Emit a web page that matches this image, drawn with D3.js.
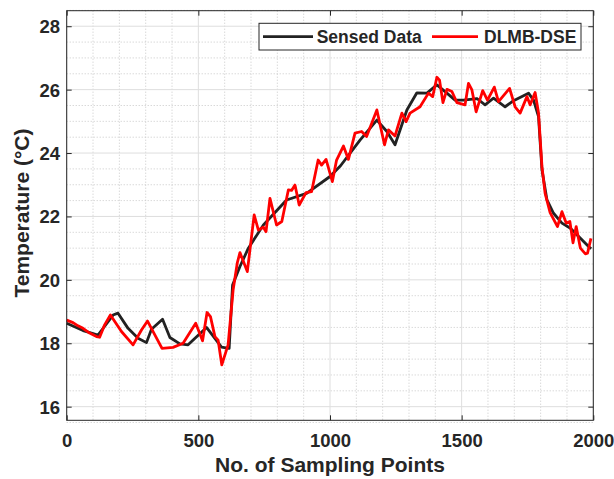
<!DOCTYPE html>
<html>
<head>
<meta charset="utf-8">
<script src="https://cdn.jsdelivr.net/npm/d3@7"></script>
<style>
  html, body { margin: 0; padding: 0; background: #fff; }
  svg { display: block; }
  text { font-family: "Liberation Sans", Arial, Helvetica, sans-serif; font-weight: bold; fill: #262626; }
</style>
</head>
<body>
<svg id="chart" width="614" height="479"></svg>
<script>
// Sensed temperature readings (sample index, °C)
const sensedX = [0, 62, 119, 176, 195, 233, 271, 303, 322, 364, 392, 430, 461, 531, 588, 617, 630, 658, 690, 747, 835, 911, 1000, 1040, 1114, 1178, 1216, 1247, 1292, 1330, 1368, 1406, 1444, 1475, 1507, 1558, 1589, 1621, 1665, 1697, 1754, 1773, 1792, 1805, 1824, 1849, 1881, 1913, 1951, 1982, 1992];
const sensedTemp = [18.63, 18.40, 18.26, 18.89, 18.95, 18.47, 18.16, 18.02, 18.44, 18.76, 18.18, 17.98, 17.95, 18.50, 17.88, 17.84, 19.84, 20.42, 21.00, 21.73, 22.52, 22.73, 23.26, 23.60, 24.41, 25.04, 24.68, 24.26, 25.36, 25.90, 25.89, 26.15, 25.89, 25.67, 25.67, 25.72, 25.52, 25.73, 25.46, 25.65, 25.89, 25.67, 25.15, 23.47, 22.52, 22.10, 21.79, 21.63, 21.31, 21.05, 20.98];

// DLMB-DSE estimates (sample index, °C)
const dseX = [0, 24, 43, 62, 87, 113, 125, 144, 166, 208, 252, 284, 307, 362, 404, 442, 490, 516, 533, 546, 563, 575, 589, 613, 632, 648, 658, 686, 712, 728, 747, 757, 772, 797, 817, 842, 854, 867, 883, 909, 930, 955, 968, 985, 1009, 1025, 1051, 1070, 1095, 1120, 1139, 1178, 1207, 1222, 1247, 1273, 1289, 1304, 1342, 1374, 1390, 1406, 1416, 1429, 1444, 1463, 1482, 1513, 1526, 1539, 1555, 1580, 1598, 1624, 1640, 1682, 1703, 1722, 1748, 1760, 1779, 1792, 1805, 1817, 1836, 1864, 1881, 1897, 1911, 1923, 1935, 1951, 1970, 1978, 1991];
const dseTemp = [18.73, 18.65, 18.55, 18.47, 18.32, 18.21, 18.19, 18.58, 18.89, 18.37, 17.95, 18.42, 18.70, 17.84, 17.87, 18.00, 18.63, 18.08, 18.97, 18.84, 18.21, 18.10, 17.32, 17.95, 19.68, 20.54, 20.86, 20.26, 22.05, 21.57, 21.66, 21.52, 22.57, 21.73, 21.84, 22.84, 22.82, 22.99, 22.36, 22.75, 22.78, 23.78, 23.62, 23.80, 23.10, 23.78, 24.22, 23.80, 24.63, 24.68, 24.52, 25.36, 24.26, 24.73, 24.54, 25.26, 24.99, 25.26, 25.46, 25.89, 25.78, 26.39, 26.30, 25.59, 26.01, 25.94, 25.59, 25.52, 26.20, 25.99, 25.30, 25.97, 25.67, 26.08, 25.62, 26.04, 25.46, 25.26, 25.78, 25.52, 25.91, 25.26, 23.57, 22.73, 22.12, 21.68, 22.15, 21.79, 21.84, 21.17, 21.68, 21.00, 20.82, 20.84, 21.31];

// Axis ticks and labels
const xTicks = [0, 500, 1000, 1500, 2000];
const yTicks = [16, 18, 20, 22, 24, 26, 28];
const xMinor = d3.range(0, 2001, 100);
const yMinor = d3.range(15.5, 28.51, 0.5);
const seriesNames = ["Sensed Data", "DLMB-DSE"];
const xTitle = "No. of Sampling Points";
const yTitle = "Temperature (°C)";

const svg = d3.select("#chart");
const plot = { left: 66.7, right: 593.3, top: 10.7, bottom: 420.3 };

const x = d3.scaleLinear().domain([0, 2000]).range([plot.left, plot.right]);
const y = d3.scaleLinear().domain([15.57, 28.49]).range([plot.bottom, plot.top]);

const axisColor = "#262626";

// Minor dotted grid
const gMinor = svg.append("g");
gMinor.selectAll("line.mx").data(xMinor.filter(v => !xTicks.includes(v)))
  .join("line")
  .attr("x1", d => x(d)).attr("x2", d => x(d))
  .attr("y1", plot.top).attr("y2", plot.bottom)
  .attr("stroke", "#c8c8c8").attr("stroke-width", 1)
  .attr("stroke-dasharray", "1,2");
gMinor.selectAll("line.my").data(yMinor.filter(v => !yTicks.includes(v)))
  .join("line")
  .attr("x1", plot.left).attr("x2", plot.right)
  .attr("y1", d => y(d)).attr("y2", d => y(d))
  .attr("stroke", "#c8c8c8").attr("stroke-width", 1)
  .attr("stroke-dasharray", "1,2");

// Major solid grid
const gMajor = svg.append("g");
gMajor.selectAll("line.gx").data(xTicks)
  .join("line")
  .attr("x1", d => x(d)).attr("x2", d => x(d))
  .attr("y1", plot.top).attr("y2", plot.bottom)
  .attr("stroke", "#dedede").attr("stroke-width", 1);
gMajor.selectAll("line.gy").data(yTicks)
  .join("line")
  .attr("x1", plot.left).attr("x2", plot.right)
  .attr("y1", d => y(d)).attr("y2", d => y(d))
  .attr("stroke", "#dedede").attr("stroke-width", 1);

// Data lines
const line = d3.line().x(d => x(d[0])).y(d => y(d[1]));
svg.append("path")
  .datum(sensedX.map((v, i) => [v, sensedTemp[i]]))
  .attr("d", line)
  .attr("fill", "none").attr("stroke", "#222222").attr("stroke-width", 2.8)
  .attr("stroke-linejoin", "round");
svg.append("path")
  .datum(dseX.map((v, i) => [v, dseTemp[i]]))
  .attr("d", line)
  .attr("fill", "none").attr("stroke", "#ff0000").attr("stroke-width", 2.8)
  .attr("stroke-linejoin", "round");

// Axes (box with inward ticks on all four sides)
const tickLen = 5;
const xAxisB = d3.axisBottom(x).tickValues(xTicks).tickSizeInner(-tickLen).tickSizeOuter(0).tickFormat(d3.format("d"));
const xAxisT = d3.axisTop(x).tickValues(xTicks).tickSizeInner(-tickLen).tickSizeOuter(0).tickFormat("");
const yAxisL = d3.axisLeft(y).tickValues(yTicks).tickSizeInner(-tickLen).tickSizeOuter(0).tickFormat(d3.format("d"));
const yAxisR = d3.axisRight(y).tickValues(yTicks).tickSizeInner(-tickLen).tickSizeOuter(0).tickFormat("");

function styleAxis(g) {
  g.select(".domain").remove();
  g.selectAll(".tick line").attr("stroke", axisColor).attr("stroke-width", 1);
  g.selectAll(".tick text").attr("fill", axisColor).style("font-size", "18.5px");
  g.attr("font-family", null).attr("font-size", null);
}
svg.append("g").attr("transform", `translate(0,${plot.bottom})`).call(xAxisB).call(styleAxis)
  .selectAll(".tick text").attr("dy", null).attr("y", 27);
svg.append("g").attr("transform", `translate(0,${plot.top})`).call(xAxisT).call(styleAxis);
svg.append("g").attr("transform", `translate(${plot.left},0)`).call(yAxisL).call(styleAxis)
  .selectAll(".tick text").attr("dy", "0.35em").attr("x", -6.7);
svg.append("g").attr("transform", `translate(${plot.right},0)`).call(yAxisR).call(styleAxis);

svg.append("rect")
  .attr("x", plot.left).attr("y", plot.top)
  .attr("width", plot.right - plot.left).attr("height", plot.bottom - plot.top)
  .attr("fill", "none").attr("stroke", axisColor).attr("stroke-width", 1);

// Axis titles
svg.append("text")
  .attr("x", (plot.left + plot.right) / 2).attr("y", 471.7)
  .attr("text-anchor", "middle").style("font-size", "21px")
  .text(xTitle);
svg.append("text")
  .attr("transform", "translate(29,213) rotate(-90)")
  .attr("text-anchor", "middle").style("font-size", "21px")
  .text(yTitle);

// Legend
const legend = svg.append("g");
legend.append("rect")
  .attr("x", 259).attr("y", 23.3).attr("width", 322).attr("height", 26.7)
  .attr("fill", "#fff").attr("stroke", axisColor).attr("stroke-width", 1);
const legendItems = [
  { name: seriesNames[0], color: "#222222", x1: 263, x2: 313, tx: 316.7 },
  { name: seriesNames[1], color: "#ff0000", x1: 432, x2: 478, tx: 484 }
];
legendItems.forEach(it => {
  legend.append("line")
    .attr("x1", it.x1).attr("x2", it.x2).attr("y1", 36.7).attr("y2", 36.7)
    .attr("stroke", it.color).attr("stroke-width", 2.8);
  legend.append("text")
    .attr("x", it.tx).attr("y", 43.3).style("font-size", "17.5px")
    .text(it.name);
});
</script>
</body>
</html>
